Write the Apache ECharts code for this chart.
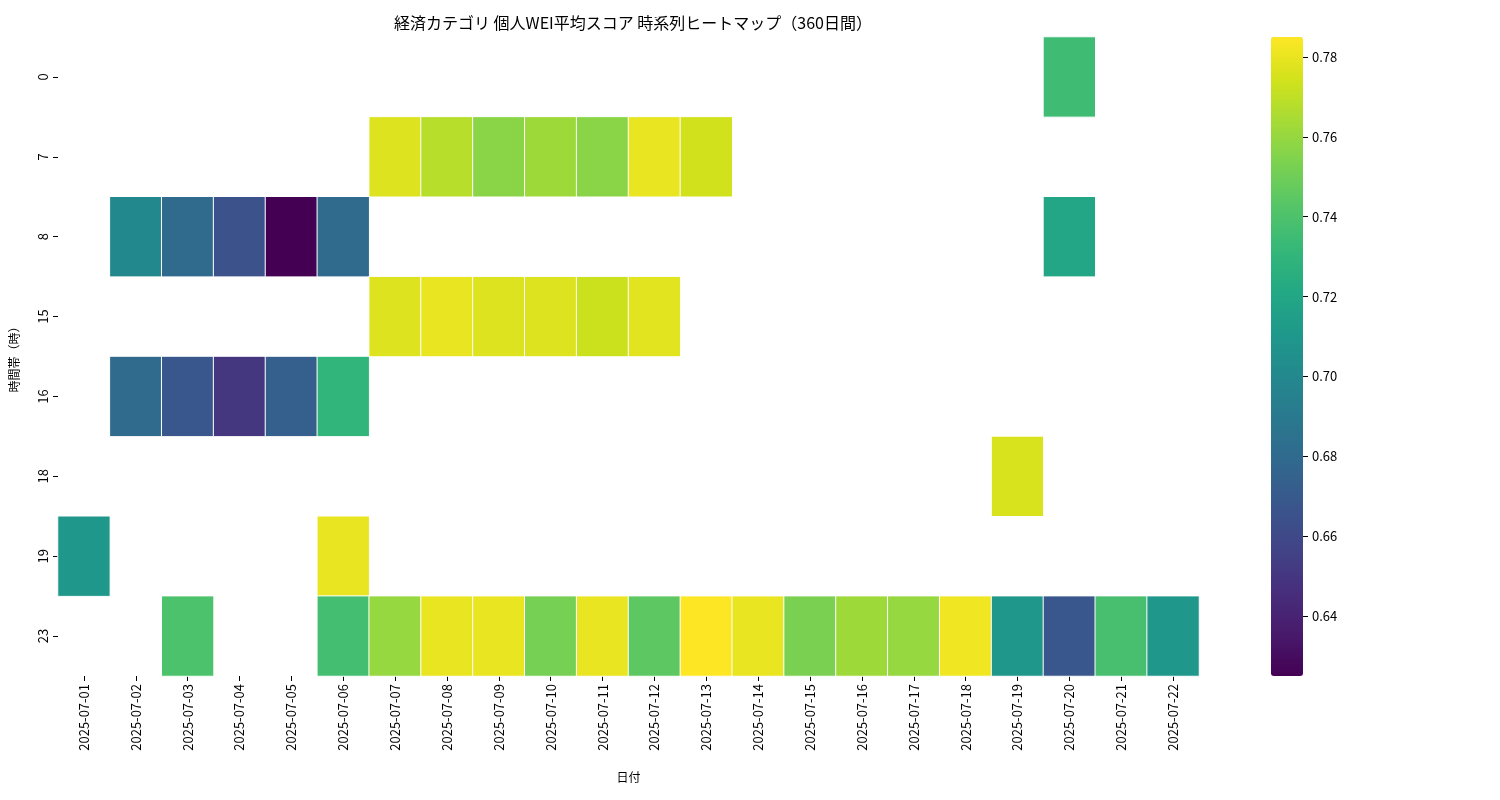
<!DOCTYPE html>
<html><head><meta charset="utf-8">
<script src="https://cdn.jsdelivr.net/npm/echarts@6/dist/echarts.min.js"></script>
<style>html,body{margin:0;padding:0;background:#fff}#c{width:1500px;height:800px}</style>
</head><body><div id="c"></div>
<script>
const dates = ['2025-07-01','2025-07-02','2025-07-03','2025-07-04','2025-07-05','2025-07-06','2025-07-07','2025-07-08','2025-07-09','2025-07-10','2025-07-11','2025-07-12','2025-07-13','2025-07-14','2025-07-15','2025-07-16','2025-07-17','2025-07-18','2025-07-19','2025-07-20','2025-07-21','2025-07-22'];
const hours = ['0','7','8','15','16','18','19','23'];
// [dateIndex, hourIndex, value]
const cells = [
 [19,0,0.735],
 [6,1,0.777],[7,1,0.768],[8,1,0.757],[9,1,0.762],[10,1,0.757],[11,1,0.780],[12,1,0.774],
 [1,2,0.700],[2,2,0.680],[3,2,0.665],[4,2,0.625],[5,2,0.680],[19,2,0.720],
 [6,3,0.777],[7,3,0.780],[8,3,0.777],[9,3,0.777],[10,3,0.773],[11,3,0.778],
 [1,4,0.680],[2,4,0.668],[3,4,0.650],[4,4,0.673],[5,4,0.730],
 [18,5,0.776],
 [0,6,0.710],[5,6,0.780],
 [2,7,0.740],[5,7,0.737],[6,7,0.760],[7,7,0.780],[8,7,0.780],[9,7,0.752],[10,7,0.780],[11,7,0.745],[12,7,0.785],[13,7,0.780],[14,7,0.753],[15,7,0.762],[16,7,0.760],[17,7,0.782],[18,7,0.710],[19,7,0.668],[20,7,0.738],[21,7,0.710]
];
const cbTicks = ['0.64','0.66','0.68','0.70','0.72','0.74','0.76','0.78'];
const vmin = 0.625, vmax = 0.785;
const viridis = ['#440154','#481a6c','#472f7d','#414487','#39568c','#31688e','#2a788e','#23888e','#1f988b','#22a884','#35b779','#54c568','#7ad151','#a5db36','#d2e21b','#fde725'];
const font = 'Noto Sans CJK JP';
const chart = echarts.init(document.getElementById('c'));
chart.setOption({
 textStyle:{fontFamily:font},
 title:{text:'経済カテゴリ 個人WEI平均スコア 時系列ヒートマップ（360日間）',left:628,top:10,textAlign:'center',textStyle:{fontSize:16,fontWeight:'normal',color:'#000'}},
 grid:[{left:57,width:1142,top:37,height:639},{left:1303,width:10,top:37,height:639}],
 xAxis:[{type:'category',data:dates,gridIndex:0,name:'日付',nameLocation:'middle',nameGap:95,nameTextStyle:{color:'#000',fontSize:12},
   axisLine:{show:false},axisTick:{show:true,alignWithLabel:true,length:5,lineStyle:{color:'#000'}},splitLine:{show:false},
   axisLabel:{rotate:90,color:'#000',fontSize:13,interval:0}},
  {type:'value',gridIndex:1,show:false}],
 yAxis:[{type:'category',data:hours,inverse:true,gridIndex:0,name:'時間帯（時）',nameLocation:'middle',nameGap:38,nameRotate:90,nameTextStyle:{color:'#000',fontSize:12},
   axisLine:{show:false},axisTick:{show:true,alignWithLabel:true,length:5,lineStyle:{color:'#000'}},splitLine:{show:false},
   axisLabel:{rotate:90,color:'#000',fontSize:13,interval:0}},
  {type:'value',gridIndex:1,position:'left',min:vmin,max:vmax,axisLine:{show:false},splitLine:{show:false},
   axisTick:{show:true,inside:true,length:5,lineStyle:{color:'#000'},customValues:cbTicks.map(Number)},
   axisLabel:{inside:true,margin:9,color:'#000',fontSize:13,customValues:cbTicks.map(Number),formatter:v=>v.toFixed(2)}}],
 visualMap:{type:'continuous',min:vmin,max:vmax,calculable:false,seriesIndex:0,inRange:{color:viridis},padding:0,
   left:1271,top:37,itemWidth:32,itemHeight:639,text:null,showLabel:false,textStyle:{color:'transparent'}},
 series:[{type:'heatmap',xAxisIndex:0,yAxisIndex:0,data:cells,itemStyle:{borderColor:'#fff',borderWidth:1},emphasis:{disabled:true}}]
});
</script></body></html>
